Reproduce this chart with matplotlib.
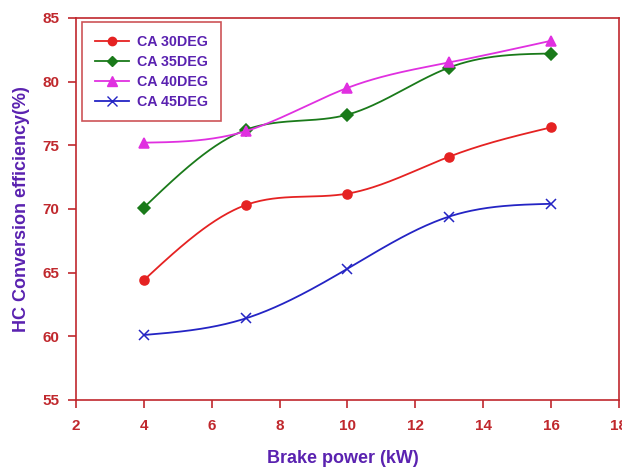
import numpy as np
import matplotlib.pyplot as plt

# data
brake_power = [4, 7, 10, 13, 16]
ca_30 = [64.4, 70.3, 71.2, 74.1, 76.4]
ca_35 = [70.1, 76.2, 77.4, 81.1, 82.2]
ca_40 = [75.2, 76.1, 79.5, 81.5, 83.2]
ca_45 = [60.1, 61.4, 65.3, 69.4, 70.4]
labels = ["CA 30DEG", "CA 35DEG", "CA 40DEG", "CA 45DEG"]


def smooth(x, y, n=200):
    # natural cubic spline through the points, only for drawing the line
    x = np.asarray(x, float)
    y = np.asarray(y, float)
    k = len(x)
    h = np.diff(x)
    A = np.zeros((k, k))
    b = np.zeros(k)
    A[0, 0] = A[-1, -1] = 1
    for i in range(1, k - 1):
        A[i, i - 1] = h[i - 1]
        A[i, i] = 2 * (h[i - 1] + h[i])
        A[i, i + 1] = h[i]
        b[i] = 6 * ((y[i + 1] - y[i]) / h[i] - (y[i] - y[i - 1]) / h[i - 1])
    m = np.linalg.solve(A, b)
    xs = np.linspace(x[0], x[-1], n)
    idx = np.clip(np.searchsorted(x, xs) - 1, 0, k - 2)
    t = xs - x[idx]
    hi = h[idx]
    a = y[idx]
    bb = (y[idx + 1] - y[idx]) / hi - hi * (2 * m[idx] + m[idx + 1]) / 6
    c = m[idx] / 2
    d = (m[idx + 1] - m[idx]) / (6 * hi)
    return xs, a + bb * t + c * t ** 2 + d * t ** 3


plt.rcParams['font.family'] = ['Liberation Sans', 'DejaVu Sans']
red = '#c0282d'
purple = '#5a22b0'

fig = plt.figure(figsize=(6.22, 4.70), dpi=100)
ax = fig.add_axes([0.122, 0.149, 0.873, 0.813])

series = [ca_30, ca_35, ca_40, ca_45]
colors = ['#e52222', '#1a7a1a', '#e030e0', '#2424c4']
markers = ['o', 'D', '^', 'x']
sizes = [6.5, 6, 7, 7]
for vals, col, mk, ms, lab in zip(series, colors, markers, sizes, labels):
    xs, ys = smooth(brake_power, vals)
    ax.plot(xs, ys, color=col, lw=1.3)
    ax.plot(brake_power, vals, linestyle='none', marker=mk, color=col, ms=ms,
            mew=1.1)
    ax.plot([], [], color=col, lw=1.3, marker=mk, ms=ms - 0.5, label=lab)

ax.set_xlim(2, 18)
ax.set_ylim(55, 85)
ax.set_xticks(range(2, 19, 2))
ax.set_yticks(range(55, 86, 5))

for s in ax.spines.values():
    s.set_color(red)
    s.set_linewidth(1.2)
ax.tick_params(direction='out', length=6, width=1.2, color=red,
               labelcolor=red, labelsize=11)
ax.tick_params(axis='x', pad=7.5)
ax.tick_params(axis='y', pad=6)
for t in ax.get_xticklabels() + ax.get_yticklabels():
    t.set_fontweight('bold')

ax.set_xlabel('Brake power (kW)', color=purple, fontsize=13,
              fontweight='bold')
ax.set_ylabel('HC Conversion efficiency(%)', color=purple, fontsize=13,
              fontweight='bold')
ax.xaxis.set_label_coords(0.491, -0.131)
ax.yaxis.set_label_coords(-0.084, 0.5)

leg = ax.legend(loc='upper left', bbox_to_anchor=(0.011, 0.99),
                fancybox=False, frameon=True, fontsize=10.3,
                handlelength=2.4, handletextpad=0.55, borderpad=0.9,
                labelspacing=0.42, borderaxespad=0)
leg.get_frame().set_edgecolor(red)
leg.get_frame().set_linewidth(1.2)
for t in leg.get_texts():
    t.set_color(purple)
    t.set_fontweight('bold')

fig.savefig('out.png', dpi=100)
